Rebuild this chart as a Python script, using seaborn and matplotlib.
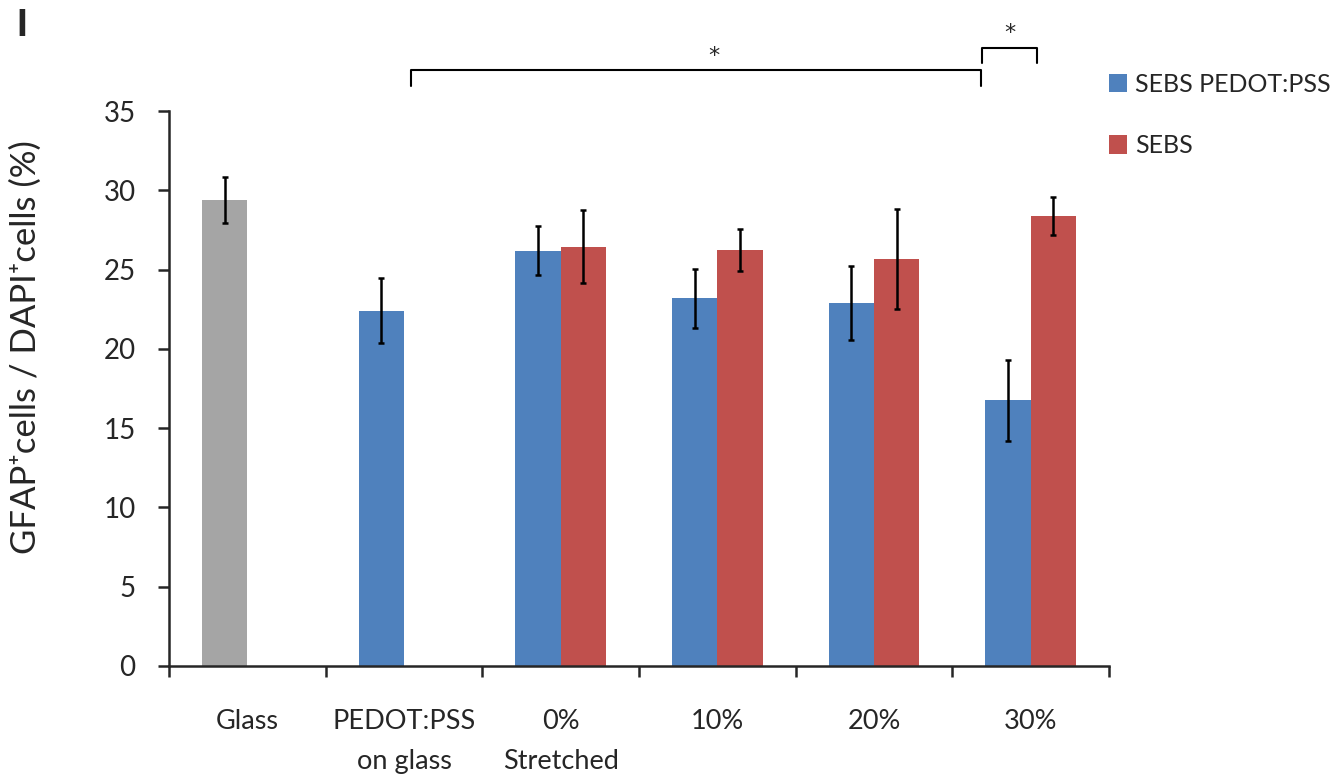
import matplotlib
matplotlib.use("Agg")
import matplotlib.pyplot as plt
import seaborn as sns
import pandas as pd

# data
groups = ["Glass", "PEDOT:PSS\non glass", "0%\nStretched", "10%", "20%", "30%"]
series_names = ["SEBS PEDOT:PSS", "SEBS"]
pedot_means = [29.4, 22.4, 26.2, 23.2, 22.9, 16.75]
pedot_errs = [1.45, 2.05, 1.57, 1.86, 2.35, 2.55]
sebs_groups = ["0%\nStretched", "10%", "20%", "30%"]
sebs_means = [26.45, 26.25, 25.65, 28.4]
sebs_errs = [2.3, 1.33, 3.15, 1.2]

blue = "#4F81BD"
red = "#C0504D"
gray = "#A5A5A5"

rows = []
for g, m, e in zip(groups, pedot_means, pedot_errs):
    rows.append({"group": g, "series": series_names[0], "value": m, "err": e})
for g, m, e in zip(sebs_groups, sebs_means, sebs_errs):
    rows.append({"group": g, "series": series_names[1], "value": m, "err": e})
df = pd.DataFrame(rows)

sns.set_style("ticks")
plt.rcParams["font.family"] = ["Lato", "DejaVu Sans"]

fig = plt.figure(figsize=(13.41, 7.77), dpi=100)
ax = fig.add_axes([169 / 1341, 111 / 777, 940 / 1341, 555 / 777])

sns.barplot(data=df, x="group", y="value", hue="series", order=groups,
            hue_order=series_names, palette=[blue, red], width=0.58,
            errorbar=None, saturation=1, linewidth=0, ax=ax)

# error bars placed at the bar centres seaborn drew
for cont, name in zip(ax.containers, series_names):
    sub = df[df["series"] == name].set_index("group")
    for bar in cont:
        cx = bar.get_x() + bar.get_width() / 2
        g = groups[int(round(cx))]
        if g not in sub.index:
            continue
        if g == "Glass":
            bar.set_facecolor(gray)
        ax.errorbar(cx, sub.loc[g, "value"], yerr=sub.loc[g, "err"],
                    fmt="none", ecolor="black", elinewidth=1.8,
                    capsize=2.5, capthick=1.8)

ax.set_xlim(-0.5, 5.5)
ax.set_ylim(0, 35)
ax.set_yticks(range(0, 36, 5))
ax.set_xticks([i - 0.5 for i in range(7)])
ax.set_xticklabels([])
ax.set_xticks(range(6), minor=True)
ax.set_xticklabels(groups, minor=True, fontsize=19.5, linespacing=1.75)
ax.tick_params(axis="x", which="minor", length=0, pad=31)
ax.tick_params(axis="x", which="major", length=8, width=1.8, direction="out")
ax.tick_params(axis="y", length=8, width=1.8, labelsize=20, pad=16)
for s in ["left", "bottom"]:
    ax.spines[s].set_linewidth(1.8)
sns.despine(ax=ax)

ax.set_xlabel("")
ax.set_ylabel("GFAP\u207acells / DAPI\u207acells (%)", fontsize=25)
ax.yaxis.set_label_coords(-0.135, 0.575)

# significance brackets
kw = dict(color="black", lw=1.5, clip_on=False)
ax.plot([1.044, 1.044, 4.68, 4.68], [36.6, 37.6, 37.6, 36.6], **kw)
ax.text(2.98, 38.45, "*", ha="center", va="center", fontsize=16, family="DejaVu Sans")
ax.plot([4.69, 4.69, 5.04, 5.04], [38.0, 39.0, 39.0, 38.0], **kw)
ax.text(4.865, 39.9, "*", ha="center", va="center", fontsize=16, family="DejaVu Sans")

leg = ax.get_legend()
handles = leg.legend_handles
labels = [t.get_text() for t in leg.get_texts()]
ax.legend(handles, labels, loc="upper left", bbox_to_anchor=(1086 / 1341, 1 - 50 / 777),
          bbox_transform=fig.transFigure, frameon=False, fontsize=18,
          handlelength=0.75, handleheight=0.75, handletextpad=0.3, labelspacing=1.55)

fig.text(16 / 1341, 1 - 8 / 777, "I", fontsize=28, fontweight="bold",
         family="Liberation Sans", ha="left", va="top")

fig.savefig("out.png", dpi=100, facecolor="white")
